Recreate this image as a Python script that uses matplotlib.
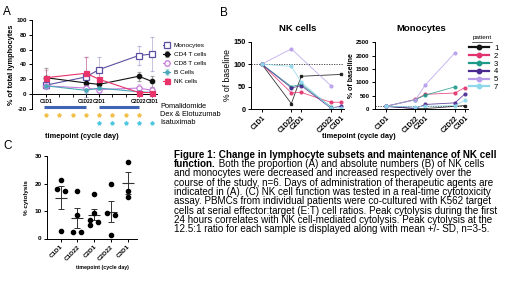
import numpy as np
import matplotlib
matplotlib.use('Agg')
import matplotlib.pyplot as plt
from matplotlib.colors import to_rgba

plt.rcParams['font.family'] = ['Liberation Sans', 'DejaVu Sans']
plt.rcParams['axes.linewidth'] = 0.7
plt.rcParams['xtick.major.width'] = 0.7
plt.rcParams['ytick.major.width'] = 0.7

W, H = 520, 292

# ---- data ----
timepoints = ['C1D1', 'C1D22', 'C2D1', 'C2D22', 'C3D1']
study_days = [1, 22, 29, 50, 57]

# panel A: % of total lymphocytes (mean, error)
subsets = ['Monocytes', 'CD4 T cells', 'CD8 T cells', 'B Cells', 'NK cells']
mono_pct = [12, 23, 33, 52, 54]
mono_err = [4, 27, 17, 13, 23]
cd4_pct = [22, 15, 13, 24, 17]
cd4_err = [13, 9, 9, 6, 8]
cd8_pct = [11, 8, 6, 8, 5]
cd8_err = [4, 5, 4, 6, 4]
bcell_pct = [11, 5, 8, 3, 2]
bcell_err = [4, 3, 3, 2, 2]
nk_pct = [22, 28, 20, 2, 2]
nk_err = [11, 22, 13, 2, 2]

# dosing schedule (study days)
pom_blocks = [(0, 22), (29, 50)]
dex_days = [1, 8, 15, 22, 29, 36, 43, 50]
isa_days = [29, 36, 43, 50, 57]

# panel B: % of baseline per patient
patients = ['1', '2', '3', '4', '5', '7']
nk_base = [
    [100, 12, 73, np.nan, 77],
    [100, 36, 37, 15, 15],
    [100, 50, 55, 5, np.nan],
    [100, 47, 52, 2, 6],
    [100, 134, np.nan, 52, np.nan],
    [100, 95, 60, 3, 2],
]
mono_base = [
    [100, 15, 15, np.nan, 130],
    [100, 360, 550, 600, 800],
    [100, 350, 520, 830, np.nan],
    [100, 20, 170, 230, 560],
    [100, 340, 900, 2100, np.nan],
    [100, 80, 100, 130, 320],
]

# panel C: % cytolysis
cyto = [
    [21.3, 17.9, 17.3, 2.7],
    [17.4, 8.4, 2.2, 2.2],
    [16.1, 9.4, 6.6, 5.9, 4.9],
    [19.8, 9.1, 8.5, 1.2],
    [27.9, 17.3, 15.0],
]

subset_colors = ['#5E4FA2', '#111111', '#C77CDB', '#4AA8B8', '#E8336B']
subset_markers = ['s', 'o', 'o', 'o', 's']
subset_ms = [4.2, 3.2, 3.8, 2.4, 3.6]
subset_fill = [False, True, False, True, True]
patient_colors = ['#111111', '#E3336F', '#1E9A8A', '#4A2A8F', '#B79CEB', '#8FD8EC']


def box(x0, y0, x1, y1):
    return [x0 / W, 1 - y1 / H, (x1 - x0) / W, (y1 - y0) / H]


def style(ax):
    for s in ['top', 'right']:
        ax.spines[s].set_visible(False)
    ax.tick_params(length=2.5, pad=1.5)


fig = plt.figure(figsize=(W / 100, H / 100), dpi=100)

# ---------------- A ----------------
axA = fig.add_axes(box(32.3, 20, 156.7, 108.8))
style(axA)
pct = [mono_pct, cd4_pct, cd8_pct, bcell_pct, nk_pct]
errs = [mono_err, cd4_err, cd8_err, bcell_err, nk_err]
handles = []
for k in range(len(subsets)):
    c = subset_colors[k]
    h = axA.errorbar(study_days, pct[k], yerr=errs[k], color=c, lw=0.8,
                     marker=subset_markers[k], ms=subset_ms[k],
                     mfc=c if subset_fill[k] else 'white', mec=c, mew=0.9,
                     ecolor=to_rgba(c, 0.35), elinewidth=0.7, capsize=1.5,
                     capthick=0.7, label=subsets[k], zorder=3)
    handles.append(h)
axA.set_xlim(-6.3, 59.5)
axA.set_ylim(-20, 100)
axA.spines['bottom'].set_position(('data', 0))
axA.set_xticks(study_days)
axA.set_xticklabels(timepoints, fontsize=3.6, fontweight='bold')
axA.set_xticks([8, 15, 36, 43], minor=True)
axA.tick_params(axis='x', which='both', length=1.8, pad=1.5)
axA.set_yticks(np.arange(-20, 101, 20))
axA.set_yticklabels([str(v) for v in range(-20, 101, 20)], fontsize=4.5, fontweight='bold')
axA.set_ylabel('% of total lymphocytes', fontsize=5.3, fontweight='bold', labelpad=1)

for a, b in pom_blocks:
    axA.plot([a, b], [-17.5, -17.5], color='#3F63B5', lw=2.2,
             solid_capstyle='butt', clip_on=False)
axA.plot(dex_days, [-28.5] * len(dex_days), ls='none', marker='*', ms=2.8,
         color='#F2BE4C', clip_on=False)
axA.plot(isa_days, [-39.2] * len(isa_days), ls='none', marker='*', ms=2.8,
         color='#4FC8E0', clip_on=False)
for lab, y in zip(['Pomalidomide', 'Dex & Elotuzumab', 'Isatuximab'], [107, 115, 123]):
    fig.text(160 / W, 1 - y / H, lab, fontsize=5.3, va='center', ha='left')

leg = axA.legend(handles=handles, loc='upper left', bbox_to_anchor=(163 / W, 1 - 43 / H),
                 bbox_transform=fig.transFigure, frameon=False, fontsize=4.6,
                 handlelength=1.1, handletextpad=0.6, labelspacing=0.55,
                 borderpad=0, borderaxespad=0)
fig.text(82 / W, 1 - 137 / H, 'timepoint (cycle day)', fontsize=5.3,
         fontweight='bold', ha='center', va='center')

# ---------------- B ----------------
def base_panel(rect, data, ylim, yticks, title, yfs, ylab_kw):
    ax = fig.add_axes(rect)
    style(ax)
    ax.axhline(100, color='#333333', ls=(0, (1.5, 1.5)), lw=0.6, zorder=1)
    for k, vals in enumerate(data):
        v = np.array(vals, dtype=float)
        d = np.array(study_days, dtype=float)
        ok = ~np.isnan(v)
        ax.plot(d[ok], v[ok], color=patient_colors[k], lw=0.6, alpha=0.85,
                marker='o' if k != 0 else 's', ms=2.0, zorder=2)
    ax.set_xlim(-6.6, 59.3)
    ax.set_ylim(*ylim)
    ax.set_yticks(yticks)
    ax.set_yticklabels([str(t) for t in yticks], fontsize=yfs, fontweight='bold')
    ax.set_xticks(study_days)
    ax.set_xticklabels(timepoints, fontsize=4.8, fontweight='bold', rotation=45,
                       ha='right', rotation_mode='anchor')
    ax.set_title(title, fontsize=6.8, fontweight='bold', pad=8)
    ax.set_ylabel('% of baseline', labelpad=1, **ylab_kw)
    return ax

axNK = base_panel(box(251, 41.7, 344, 109), nk_base, (0, 150), [0, 50, 100, 150],
                  'NK cells', 5.3, dict(fontsize=6.2))
axMo = base_panel(box(375, 42.3, 468, 109), mono_base, (0, 2500),
                  [0, 500, 1000, 1500, 2000, 2500], 'Monocytes', 4.3,
                  dict(fontsize=5.0, fontweight='bold'))

pat_handles = [plt.Line2D([], [], color=patient_colors[k], lw=1.6, marker='o', ms=3.2)
               for k in range(len(patients))]
fig.legend(handles=pat_handles, labels=patients, loc='upper left',
           bbox_to_anchor=(469 / W, 1 - 44.5 / H), frameon=False, fontsize=5.6,
           handlelength=2.6, handletextpad=0.6, labelspacing=0.05, borderpad=0,
           borderaxespad=0)
fig.text(482 / W, 1 - 38 / H, 'patient', fontsize=4.6, ha='center', va='center')
fig.add_artist(plt.Line2D([472 / W, 492 / W], [1 - 41.5 / H] * 2, color='#222222', lw=0.5))
fig.text(359 / W, 1 - 136 / H, 'timepoint (cycle day)', fontsize=5.3,
         fontweight='bold', ha='center', va='center')

# ---------------- C ----------------
axC = fig.add_axes(box(47, 156, 137, 238.5))
style(axC)


def alt_offsets(vals, tol=1.6, off=0.24):
    v = np.asarray(vals, dtype=float)
    order = np.argsort(-v)
    offs = np.zeros(len(v))
    groups = []
    for i in order:
        if groups and abs(v[groups[-1][-1]] - v[i]) < tol:
            groups[-1].append(i)
        else:
            groups.append([i])
    for g in groups:
        if len(g) > 1:
            for j, i in enumerate(g):
                offs[i] = -off if j % 2 == 0 else off
    return offs


for i, vals in enumerate(cyto):
    v = np.array(vals)
    axC.plot(i + alt_offsets(v), v, 'o', color='black', ms=3.0, zorder=3)
    m = v.mean()
    sem = v.std(ddof=1) / np.sqrt(len(v))
    axC.hlines(m, i - 0.36, i + 0.36, color='#333333', lw=0.8, zorder=2)
    axC.errorbar(i, m, yerr=sem, fmt='none', ecolor='#333333', elinewidth=0.7,
                 capsize=2.2, capthick=0.7, zorder=2)
axC.set_xlim(-0.82, 4.56)
axC.set_ylim(0, 30)
axC.set_yticks([0, 10, 20, 30])
axC.set_yticklabels(['0', '10', '20', '30'], fontsize=4.6, fontweight='bold')
axC.set_xticks(range(len(timepoints)))
axC.set_xticklabels(timepoints, fontsize=4.5, fontweight='bold', rotation=45,
                    ha='right', rotation_mode='anchor')
axC.set_ylabel('% cytolysis', fontsize=4.6, fontweight='bold', labelpad=4)
fig.text(102 / W, 1 - 268 / H, 'timepoint (cycle day)', fontsize=3.8,
         fontweight='bold', ha='center', va='center')

# panel letters
fig.text(7 / W, 1 - 12 / H, 'A', fontsize=8.5, ha='center', va='center')
fig.text(224 / W, 1 - 13 / H, 'B', fontsize=8.5, ha='center', va='center')
fig.text(8 / W, 1 - 146 / H, 'C', fontsize=8.5, ha='center', va='center')

# ---------------- caption ----------------
cap_lines = [
    'Figure 1: Change in lymphocyte subsets and maintenance of NK cell',
    ' Both the proportion (A) and absolute numbers (B) of NK cells',
    'and monocytes were decreased and increased respectively over the',
    'course of the study, n=6. Days of administration of therapeutic agents are',
    'indicated in (A). (C) NK cell function was tested in a real-time cytotoxicity',
    'assay. PBMCs from individual patients were co-cultured with K562 target',
    'cells at serial effector:target (E:T) cell ratios. Peak cytolysis during the first',
    '24 hours correlates with NK cell-mediated cytolysis. Peak cytolysis at the',
    '12.5:1 ratio for each sample is displayed along with mean +/- SD, n=3-5.',
]
cap_fs = 7.1
x0, y0, dy = 174, 155, 9.25
fig.text(x0 / W, 1 - y0 / H, cap_lines[0], fontsize=cap_fs, fontweight='bold', va='center')
t = fig.text(x0 / W, 1 - (y0 + dy) / H, 'function.', fontsize=cap_fs, fontweight='bold', va='center')
r = fig.canvas.get_renderer()
bb = t.get_window_extent(renderer=r)
fig.text(bb.x1 / W, 1 - (y0 + dy) / H, cap_lines[1], fontsize=cap_fs, va='center')
for k, line in enumerate(cap_lines[2:]):
    fig.text(x0 / W, 1 - (y0 + dy * (k + 2)) / H, line, fontsize=cap_fs, va='center')

fig.savefig('out.png', dpi=100)
